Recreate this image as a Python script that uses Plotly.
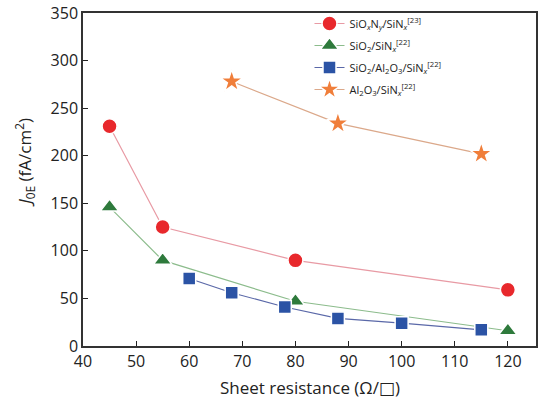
import plotly.graph_objects as go

# Data
sioxny_x = [45, 55, 80, 120]
sioxny_y = [231, 125, 90, 59]
sio2_x = [45, 55, 80, 120]
sio2_y = [146, 90, 47, 16]
stack_x = [60, 68, 78, 88, 100, 115]
stack_y = [71, 56, 41, 29, 24, 17]
al2o3_x = [68, 88, 115]
al2o3_y = [278, 234, 202]

names = [
    "SiO<sub><i>x</i></sub>N<sub><i>y</i></sub>/SiN<sub><i>x</i></sub><sup>[23]</sup>",
    "SiO<sub>2</sub>/SiN<sub><i>x</i></sub><sup>[22]</sup>",
    "SiO<sub>2</sub>/Al<sub>2</sub>O<sub>3</sub>/SiN<sub><i>x</i></sub><sup>[22]</sup>",
    "Al<sub>2</sub>O<sub>3</sub>/SiN<sub><i>x</i></sub><sup>[22]</sup>",
]

font_family = "Open Sans, Noto Sans, DejaVu Sans, sans-serif"
fig = go.Figure()

series = [
    (sioxny_x, sioxny_y, names[0], "circle", "#e8282c", "#e89aa4", 15),
    (sio2_x, sio2_y, names[1], "triangle-up", "#2e7a3c", "#8cbc8c", 16),
    (stack_x, stack_y, names[2], "square", "#2b53a5", "#5a68a8", 13),
    (al2o3_x, al2o3_y, names[3], "star", "#f07e3a", "#dba88a", 17),
]
for i, (x, y, name, sym, mc, lc, sz) in enumerate(series):
    fig.add_trace(go.Scatter(
        x=x, y=y, name=name, mode="lines+markers", legendgroup=f"g{i}",
        line=dict(color=lc, width=1.2),
        marker=dict(symbol=sym, color=mc, size=sz, line=dict(color="white", width=1.5)),
    ))

axis_common = dict(
    showgrid=False, zeroline=False, showline=True, linecolor="#333333", linewidth=1.5,
    mirror=True, ticks="inside", ticklen=5, tickwidth=1.2, tickcolor="#222222",
    tickfont=dict(size=16, color="#222222", family=font_family), automargin=False,
)
fig.update_xaxes(range=[40, 125.3], tickmode="array", tickvals=list(range(40, 121, 10)),
                 **axis_common)
fig.update_yaxes(range=[0, 350], tickmode="array", tickvals=list(range(0, 351, 50)),
                 **axis_common)

fig.add_annotation(text="Sheet resistance (Ω/□)", xref="paper", yref="paper",
                   x=0.5, y=-0.125, xanchor="center", yanchor="middle", showarrow=False,
                   font=dict(size=17, color="#222222", family=font_family))
fig.add_annotation(text="<i>J</i><sub>0E</sub> (fA/cm<sup>2</sup>)", xref="paper", yref="paper",
                   x=-0.128, y=0.55, xanchor="center", yanchor="middle", textangle=-90, showarrow=False,
                   font=dict(size=17, color="#222222", family=font_family))

fig.update_layout(
    width=539, height=402,
    margin=dict(l=83, r=3, t=13, b=56),
    plot_bgcolor="white", paper_bgcolor="white",
    font=dict(family=font_family, color="#222222"),
    legend=dict(x=0.50, y=1.012, xanchor="left", yanchor="top", bgcolor="rgba(0,0,0,0)",
                font=dict(size=11, color="#222222", family=font_family),
                itemwidth=30, tracegroupgap=3),
)

fig.write_html("out.html", config={"displayModeBar": False},
               post_script="document.body.style.margin='0px';document.body.style.overflow='hidden';")
